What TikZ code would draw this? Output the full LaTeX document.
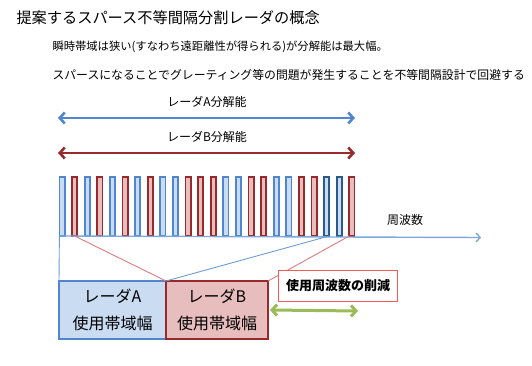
\documentclass[tikz,border=0pt]{standalone}
\usepackage{fontspec}
\setmainfont{Noto Sans CJK JP}
\usepackage{xcolor}
\definecolor{bandblue}{HTML}{4F86CF}
\definecolor{bandbluefill}{HTML}{C9DCF2}
\definecolor{banddeep}{HTML}{2A5A8C}
\definecolor{bandred}{HTML}{98292C}
\definecolor{bandredfill}{HTML}{E8BDBD}
\definecolor{axisblue}{HTML}{7FA8DA}
\definecolor{linkred}{HTML}{DE7B7D}
\definecolor{linkblue}{HTML}{6E9BD3}
\definecolor{cutgreen}{HTML}{9BBB59}
\definecolor{notered}{HTML}{F25A5A}
\usepackage{tikz}
\usetikzlibrary{arrows.meta, positioning, calc}

\begin{document}
\begin{tikzpicture}[
  x=1pt, y=-1pt,
  font=\fontsize{12}{14}\selectfont,
  bar/.style={
    line width=1.8pt, minimum width=5.2pt, minimum height=59pt,
    inner sep=0pt, outer sep=0pt
  },
  barb/.style={bar, draw=bandblue, fill=bandbluefill},
  barr/.style={bar, draw=bandred, fill=bandredfill},
  bard/.style={bar, draw=banddeep, fill=bandbluefill},
  span/.style={line width=2.6pt,
    {Straight Barb[length=5pt, width=11pt]}-{Straight Barb[length=5pt, width=11pt]}},
  usebox/.style={
    line width=2.4pt, minimum height=58pt, inner sep=0pt, outer sep=0pt,
    align=center, font=\fontsize{16}{27}\selectfont
  }
]
  \useasboundingbox (0,0) rectangle (532,366);

  % heading
  \node[anchor=west, font=\fontsize{15.2}{18}\selectfont] (title) at (13,18)
    {提案するスパース不等間隔分割レーダの概念};
  \node[anchor=west, font=\fontsize{11.3}{14}\selectfont] (note1) at (49,47)
    {瞬時帯域は狭い(すなわち遠距離性が得られる)が分解能は最大幅。};
  \node[anchor=west, font=\fontsize{11.85}{14}\selectfont] (note2) at (49,75)
    {スパースになることでグレーティング等の問題が発生することを不等間隔設計で回避する};

  % sub-bands
  \foreach \c [count=\i] in {b,r,b,r,b,r,b,r,b,b,r,r,r,b,b,r,r,b,b,r,r,d,d,r} {
    \node[bar\c] (bar\i) at ({62+12.6*(\i-1)},206.5) {};
  }

  % frequency axis
  \coordinate (axisend) at (481,237.5);
  \draw[axisblue, line width=1.4pt, -{Straight Barb[length=4pt, width=9pt]}]
    (bar1.south west) -- (axisend);
  \node (freq) at (405,220) {周波数};

  % resolution spans
  \coordinate (aL) at (58,118);
  \coordinate (aR) at (355,118);
  \coordinate (bL) at (58,153);
  \coordinate (bR) at (355,153);
  \draw[span, bandblue] (aL) -- (aR);
  \draw[span, bandred] (bL) -- (bR);
  \node (resA) at (207,102) {レーダA分解能};
  \node (resB) at (207,137) {レーダB分解能};

  % used bandwidths
  \node[usebox, draw=bandblue, fill=bandbluefill, minimum width=107pt]
    (boxA) at (112.5,310) {レーダA\\使用帯域幅};
  \node[usebox, draw=bandred, fill=bandredfill, minimum width=102pt,
        right=0pt of boxA] (boxB) {レーダB\\使用帯域幅};

  \draw[linkblue, line width=0.9pt] (bar1.south west) -- (boxA.north west);
  \draw[linkblue, line width=0.9pt] (bar22.south east) -- (boxA.north east);
  \draw[linkred, line width=0.9pt] (bar2.south) -- (boxB.north west);
  \draw[linkred, line width=0.9pt] (bar24.south west) -- (boxB.north east);

  % reduction
  \node[draw=notered, fill=white, line width=1pt, minimum width=119pt,
        minimum height=31pt, font=\fontsize{13}{15}\selectfont\bfseries]
    (cut) at (338,286) {使用周波数の削減};
  \coordinate (gR) at (358,311);
  \draw[cutgreen, line width=3pt,
    {Straight Barb[length=5pt, width=11pt]}-{Straight Barb[length=5pt, width=11pt]}]
    ([xshift=2pt]boxB.east) -- (gR);
\end{tikzpicture}
\end{document}
